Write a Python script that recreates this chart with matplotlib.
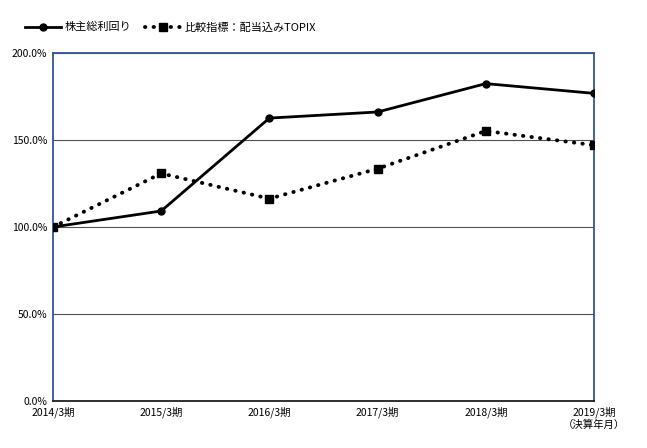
import matplotlib
matplotlib.use("Agg")
import matplotlib.pyplot as plt
from matplotlib.ticker import FuncFormatter

plt.rcParams['font.family'] = ['Noto Sans CJK JP', 'DejaVu Sans']

years = ["2014/3期", "2015/3期", "2016/3期", "2017/3期", "2018/3期", "2019/3期\n（決算年月）"]
tsr = [100.0, 109.2, 162.6, 166.1, 182.4, 176.8]
topix = [100.0, 130.8, 116.3, 133.5, 155.2, 147.0]
yticks = [0, 50, 100, 150, 200]

fig = plt.figure(figsize=(6.47, 4.48), dpi=100)
ax = fig.add_axes([53 / 647, 1 - 401 / 448, (594 - 53) / 647, (401 - 53) / 448])

x = list(range(len(years)))
ax.plot(x, tsr, color="black", lw=2, marker="o", ms=5, label="株主総利回り", zorder=3)
ax.plot(x, topix, color="black", lw=2.8, linestyle=(0, (0.1, 2.1)), dash_capstyle="round",
        marker="s", ms=5.5, label="比較指標：配当込みTOPIX", zorder=3)

ax.set_xlim(0, len(years) - 1)
ax.set_ylim(0, 200)
ax.set_yticks(yticks)
ax.yaxis.set_major_formatter(FuncFormatter(lambda v, p: f"{v:.1f}%"))
ax.set_xticks(x)
ax.set_xticklabels(years)
ax.tick_params(length=0, labelsize=7.5, pad=4)
ax.grid(axis="y", color="#505050", lw=0.8)
ax.set_axisbelow(True)

for s in ["left", "top", "right"]:
    ax.spines[s].set_color("#2F5597")
    ax.spines[s].set_linewidth(1.3)
ax.spines["bottom"].set_color("#202020")
ax.spines["bottom"].set_linewidth(1.3)

fig.legend(loc="upper left", bbox_to_anchor=(15 / 647, 1 - 12 / 448), ncol=2, frameon=False,
           fontsize=8, handlelength=3.2, handletextpad=0.4, columnspacing=1.2)

fig.savefig("out.png", dpi=100)
